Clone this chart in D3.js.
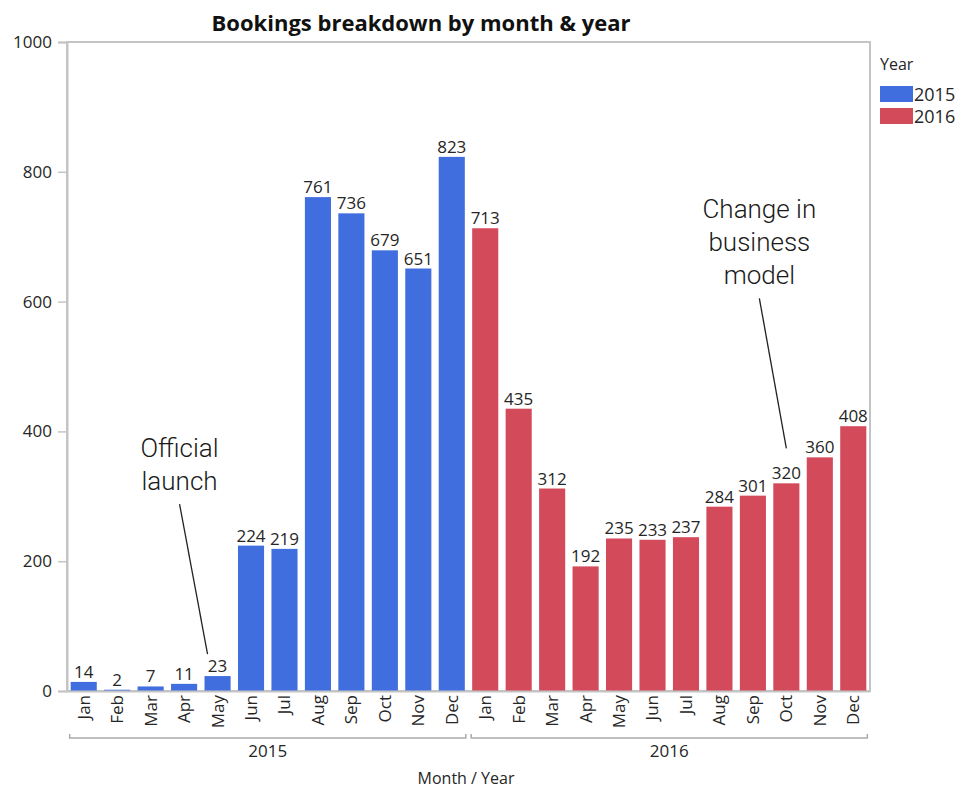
<!DOCTYPE html>
<html>
<head>
<meta charset="utf-8">
<script src="https://cdn.jsdelivr.net/npm/d3@7"></script>
<style>
  html, body { margin: 0; padding: 0; background: #fff; }
  svg { display: block; font-family: "Open Sans", "DejaVu Sans", sans-serif; }
</style>
</head>
<body>
<svg id="chart" width="962" height="790"></svg>
<script>
// Monthly bookings, two years side by side
const months = ["Jan", "Feb", "Mar", "Apr", "May", "Jun", "Jul", "Aug", "Sep", "Oct", "Nov", "Dec"];
const years = ["2015", "2016"];
const bookings2015 = [14, 2, 7, 11, 23, 224, 219, 761, 736, 679, 651, 823];
const bookings2016 = [713, 435, 312, 192, 235, 233, 237, 284, 301, 320, 360, 408];
const yTicks = [0, 200, 400, 600, 800, 1000];
const yearColors = ["#416edf", "#d34a5b"];

// Call-out notes tied to a month/year bar
const notes = [
  { year: "2015", month: "May", lines: ["Official", "launch"], dx: -10, lift: 22, textX: -38, rise: 197 },
  { year: "2016", month: "Oct", lines: ["Change in", "business", "model"], dx: 0, lift: 35, textX: -27, rise: 230 }
];

const rows = [];
years.forEach((yr, yi) => {
  const vals = yi === 0 ? bookings2015 : bookings2016;
  months.forEach((m, mi) => rows.push({ key: yr + "-" + m, year: yr, month: m, value: vals[mi], color: yearColors[yi] }));
});

const svg = d3.select("#chart");
const plotLeft = 67, plotRight = 870, plotTop = 42, plotBottom = 691;

const x = d3.scaleBand().domain(rows.map(d => d.key)).range([plotLeft, plotRight]).paddingInner(0.22).paddingOuter(0.11);
const y = d3.scaleLinear().domain([0, 1000]).range([plotBottom, plotTop]);

const axisGrey = "#c4c4c4";
const textCol = "#262626";

// Title
svg.append("text")
  .attr("x", 421).attr("y", 31)
  .attr("text-anchor", "middle")
  .attr("font-size", 22).attr("font-weight", "bold").attr("fill", "#111")
  .text("Bookings breakdown by month & year");

// Plot frame
svg.append("rect")
  .attr("x", plotLeft).attr("y", plotTop)
  .attr("width", plotRight - plotLeft).attr("height", plotBottom - plotTop)
  .attr("fill", "none").attr("stroke", axisGrey).attr("stroke-width", 2);

// Y axis
const yAxis = svg.append("g")
  .attr("transform", `translate(${plotLeft},0)`)
  .call(d3.axisLeft(y).tickValues(yTicks).tickSize(9).tickPadding(6).tickFormat(d3.format("d")));
yAxis.select(".domain").attr("stroke", axisGrey).attr("stroke-width", 2);
yAxis.selectAll(".tick line").attr("stroke", axisGrey).attr("stroke-width", 1.5);
yAxis.selectAll(".tick text").attr("font-size", 17).attr("fill", textCol).attr("font-family", "Open Sans, sans-serif");

// Bars
svg.append("g").selectAll("rect")
  .data(rows).join("rect")
  .attr("x", d => x(d.key))
  .attr("y", d => y(d.value))
  .attr("width", x.bandwidth())
  .attr("height", d => y(0) - y(d.value))
  .attr("fill", d => d.color);

// Value labels
svg.append("g").selectAll("text")
  .data(rows).join("text")
  .attr("x", d => x(d.key) + x.bandwidth() / 2)
  .attr("y", d => y(d.value) - 4)
  .attr("text-anchor", "middle")
  .attr("font-size", 17).attr("fill", textCol)
  .text(d => d.value);

// X axis: month names
const xAxis = svg.append("g")
  .attr("transform", `translate(0,${plotBottom})`)
  .call(d3.axisBottom(x).tickSize(0).tickFormat(k => k.split("-")[1]));
xAxis.select(".domain").attr("stroke", axisGrey).attr("stroke-width", 2);
xAxis.selectAll(".tick text")
  .attr("font-size", 17).attr("fill", textCol)
  .attr("font-family", "Open Sans, sans-serif")
  .attr("text-anchor", "end")
  .attr("transform", "rotate(-90)")
  .attr("x", -4).attr("y", 0).attr("dy", "0.35em");

// Year group brackets
const groupY = 738;
years.forEach(yr => {
  const keys = rows.filter(d => d.year === yr).map(d => d.key);
  const x0 = x(keys[0]) - 1;
  const x1 = x(keys[keys.length - 1]) + x.bandwidth() + 1;
  svg.append("path")
    .attr("d", `M${x0},${groupY - 4}V${groupY}H${x1}V${groupY - 4}`)
    .attr("fill", "none").attr("stroke", "#aaa").attr("stroke-width", 1.5);
  svg.append("text")
    .attr("x", (x0 + x1) / 2).attr("y", groupY + 19)
    .attr("text-anchor", "middle")
    .attr("font-size", 17).attr("fill", textCol)
    .text(yr);
});

// X axis title
svg.append("text")
  .attr("x", 466).attr("y", 784)
  .attr("text-anchor", "middle")
  .attr("font-size", 16).attr("fill", textCol)
  .text("Month / Year");

// Legend
const legend = svg.append("g").attr("transform", "translate(880,0)");
legend.append("text").attr("x", 0).attr("y", 70).attr("font-size", 16).attr("fill", textCol).text("Year");
years.forEach((yr, i) => {
  legend.append("rect")
    .attr("x", 0).attr("y", 86 + i * 22)
    .attr("width", 33).attr("height", 16)
    .attr("fill", yearColors[i]);
  legend.append("text")
    .attr("x", 34).attr("y", 101 + i * 22)
    .attr("font-size", 18).attr("fill", textCol)
    .text(yr);
});

// Call-out notes
const lineGap = 33;
notes.forEach(n => {
  const d = rows.find(r => r.year === n.year && r.month === n.month);
  const cx = x(d.key) + x.bandwidth() / 2;
  const ex = cx + n.dx, ey = y(d.value) - n.lift;
  const tx = cx + n.textX;
  const firstBase = ey - n.rise;
  const t = svg.append("text")
    .attr("x", tx).attr("y", firstBase)
    .attr("text-anchor", "middle")
    .attr("font-family", "Roboto, sans-serif")
    .attr("font-weight", 300)
    .attr("font-size", 26).attr("fill", "#1a1a1a");
  n.lines.forEach((ln, i) => t.append("tspan").attr("x", tx).attr("dy", i === 0 ? 0 : lineGap).text(ln));
  const lastBase = firstBase + (n.lines.length - 1) * lineGap;
  svg.append("line")
    .attr("x1", tx).attr("y1", lastBase + 14)
    .attr("x2", ex).attr("y2", ey)
    .attr("stroke", "#222").attr("stroke-width", 1.3);
});
</script>
</body>
</html>
